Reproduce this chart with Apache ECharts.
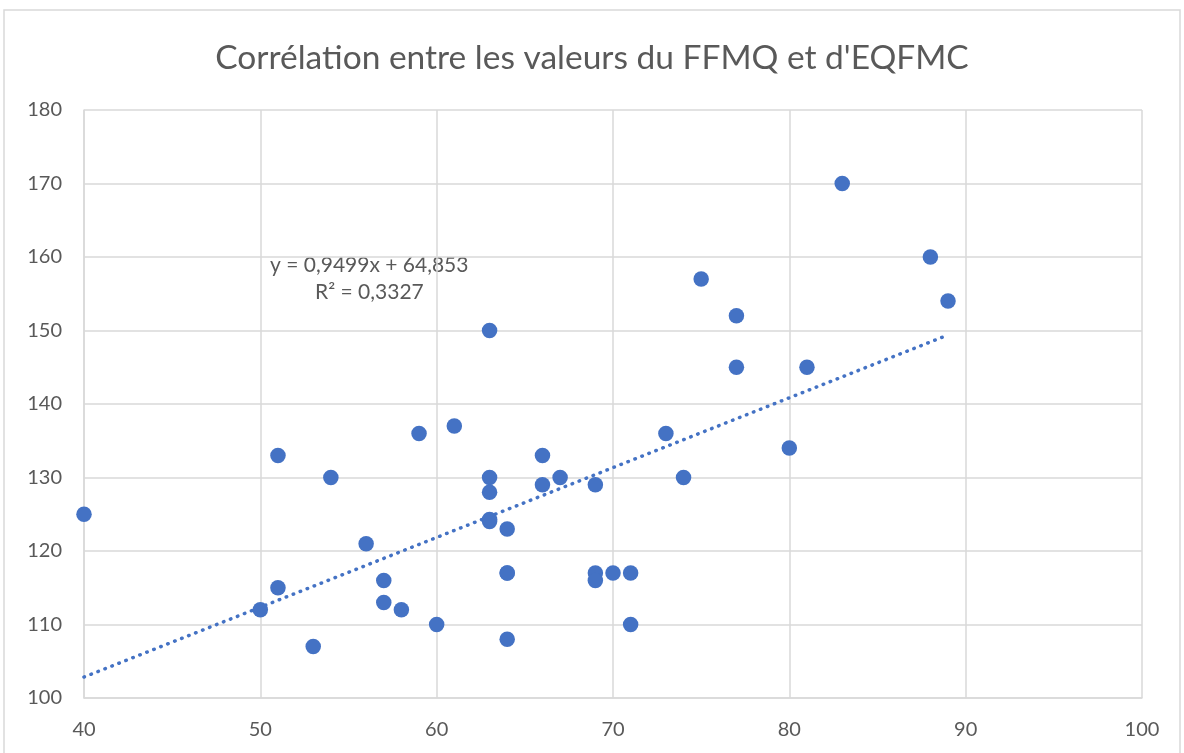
<!DOCTYPE html>
<html><head><meta charset="utf-8">
<script src="https://cdn.jsdelivr.net/npm/echarts@6/dist/echarts.min.js"></script>
<style>html,body{margin:0;padding:0;background:#fff}#c{width:1184px;height:753px}</style>
</head><body><div id="c"></div>
<script>
const ffmq = [40,50,51,51,53,54,56,57,57,58,59,60,61,63,63,63,63,63,64,64,64,64,66,66,67,69,69,69,70,71,71,73,74,75,77,77,80,81,83,88,89];
const eqfmc = [125,112,133,115,107,130,121,116,113,112,136,110,137,150,130,128,124,124.3,123,117,117,108,133,129,130,129,117,116,117,117,110,136,130,157,152,145,134,145,170,160,154];
const trendX = [40, 89];
const trendY = [102.85, 149.39];
const xTicks = [40,50,60,70,80,90,100];
const yTicks = [100,110,120,130,140,150,160,170,180];
const titleText = "Corrélation entre les valeurs du FFMQ et d'EQFMC";
const eqText = "y = 0,9499x + 64,853";
const r2Text = "R² = 0,3327";

const font = "Lato, 'Open Sans', sans-serif";
const chart = echarts.init(document.getElementById('c'));
chart.setOption({
  animation:false,
  title:{text:titleText,left:'center',top:36,textStyle:{fontFamily:font,fontSize:33.5,fontWeight:'normal',color:'#595959'}},
  grid:{left:84,right:42,top:110,bottom:55},
  xAxis:{type:'value',min:xTicks[0],max:xTicks[xTicks.length-1],interval:10,
    axisLine:{lineStyle:{color:'#d9d9d9',width:1.5}},axisTick:{show:false},
    axisLabel:{color:'#595959',fontSize:20,fontFamily:font,margin:22},
    splitLine:{lineStyle:{color:'#d9d9d9',width:1.5}}},
  yAxis:{type:'value',min:yTicks[0],max:yTicks[yTicks.length-1],interval:10,
    axisLine:{show:true,lineStyle:{color:'#d9d9d9',width:1.5}},axisTick:{show:false},
    axisLabel:{color:'#595959',fontSize:20,fontFamily:font,margin:22},
    splitLine:{lineStyle:{color:'#d9d9d9',width:1.5}}},
  graphic:[
    {type:'rect',shape:{x:4,y:10,width:1176,height:760},style:{fill:'none',stroke:'#d9d9d9',lineWidth:1.5},silent:true,z:-1},
    {type:'text',left:270,top:255,style:{text:eqText,fill:'#595959',font:'21px '+font}},
    {type:'text',left:315,top:282,style:{text:r2Text,fill:'#595959',font:'21px '+font}}
  ],
  series:[
    {type:'line',data:trendX.map((x,i)=>[x,trendY[i]]),showSymbol:false,symbol:'none',
     lineStyle:{color:'#4472C4',width:3.5,type:[0.5,7],cap:'round'},z:1},
    {type:'scatter',data:ffmq.map((x,i)=>[x,eqfmc[i]]),symbolSize:15.5,
     itemStyle:{color:'#4472C4',opacity:1},z:2}
  ]
});
</script></body></html>
